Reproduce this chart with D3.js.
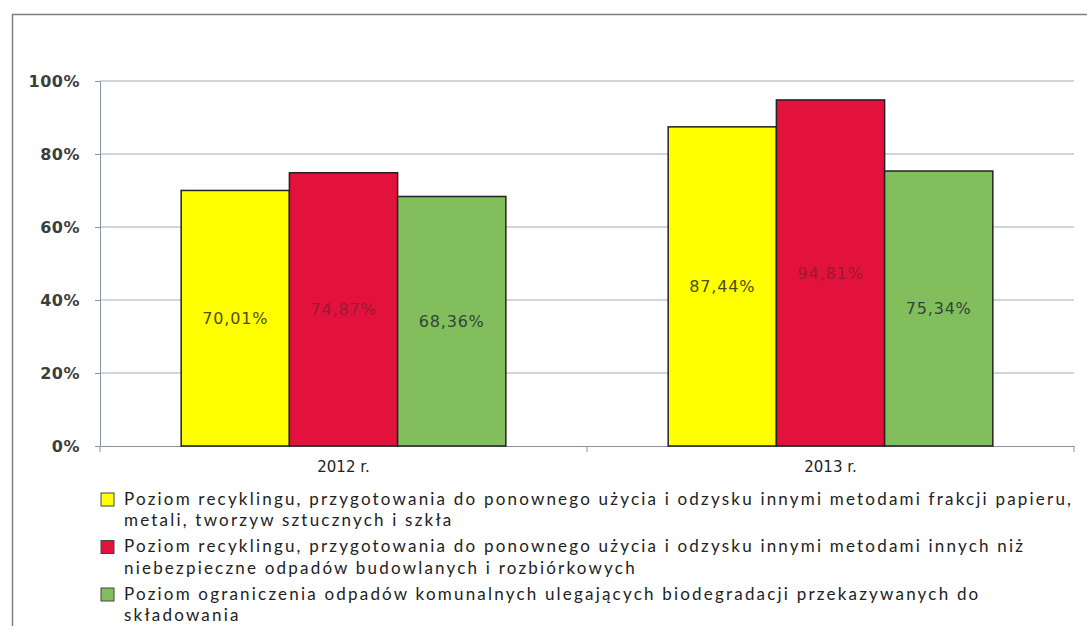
<!DOCTYPE html>
<html>
<head>
    <meta charset="utf-8">
    <style>
        body { margin: 0; background: #fff; }
        svg { display: block; font-family: 'DejaVu Sans', Verdana, sans-serif; }
        .legend text { font-family: Lato, 'Open Sans', sans-serif; }
    </style>
    <title>Poziomy recyklingu</title>
</head>
<body>
    <svg width="1087" height="626"></svg>

<script src="https://d3js.org/d3.v7.min.js"></script>
<script>
    // data
    let years = ['2012 r.', '2013 r.']
    let series = [
        'Poziom recyklingu, przygotowania do ponownego użycia i odzysku innymi metodami frakcji  papieru, metali, tworzyw sztucznych i szkła',
        'Poziom recyklingu, przygotowania do ponownego użycia i odzysku innymi metodami innych niż niebezpieczne odpadów budowlanych i rozbiórkowych',
        'Poziom ograniczenia odpadów komunalnych ulegających biodegradacji przekazywanych do składowania'
    ]
    let legendLines = [
        ['Poziom recyklingu, przygotowania do ponownego użycia i odzysku innymi metodami frakcji  papieru,', 'metali, tworzyw sztucznych i szkła'],
        ['Poziom recyklingu, przygotowania do ponownego użycia i odzysku innymi metodami innych niż', 'niebezpieczne odpadów budowlanych i rozbiórkowych'],
        ['Poziom ograniczenia odpadów komunalnych ulegających biodegradacji przekazywanych do', 'składowania']
    ]
    let values2012 = [70.01, 74.87, 68.36]
    let values2013 = [87.44, 94.81, 75.34]
    let yTicks = [0, 20, 40, 60, 80, 100]

    let colors = ['#ffff00', '#e3123c', '#82bf5c']
    let labelColors = ['#4d4d10', '#9a1a35', '#34443a']

    let svg = d3.select('svg')
    let values = [values2012, values2013]

    // outer frame
    svg.append('rect')
        .attr('x', 12.5).attr('y', 14.5)
        .attr('width', 1100).attr('height', 700)
        .attr('fill', 'none')
        .attr('stroke', '#7a7f88')
        .attr('stroke-width', 1.5)

    let plotLeft = 100, plotRight = 1074, plotTop = 81, plotBottom = 446

    let x0 = d3.scaleBand().domain(years).range([plotLeft, plotRight]).paddingInner(0).paddingOuter(0)
    let x1 = d3.scaleBand().domain(d3.range(series.length)).range([0, x0.bandwidth()]).paddingInner(0).paddingOuter(0.75)
    let y = d3.scaleLinear().domain([0, 100]).range([plotBottom, plotTop])

    // gridlines
    svg.append('g')
        .selectAll('line')
        .data(yTicks.filter(d => d > 0))
        .join('line')
        .attr('x1', plotLeft).attr('x2', plotRight)
        .attr('y1', d => y(d)).attr('y2', d => y(d))
        .attr('stroke', '#9fabb8')
        .attr('stroke-width', 1)

    // y axis
    let yAxis = svg.append('g')
        .attr('transform', `translate(${plotLeft},0)`)
        .call(d3.axisLeft(y).tickValues(yTicks).tickFormat(d => d + '%').tickSize(5).tickPadding(15))
    yAxis.select('.domain').attr('stroke', '#8a93a0')
    yAxis.selectAll('.tick line').attr('stroke', '#8a93a0')
    yAxis.selectAll('.tick text')
        .attr('fill', '#3a3f3c')
        .attr('font-size', 16)
        .attr('font-weight', 'bold')
        .attr('letter-spacing', 0.5)
        .attr('font-family', "'DejaVu Sans', sans-serif")

    // x axis
    let xAxis = svg.append('g')
        .attr('transform', `translate(0,${plotBottom})`)
        .call(d3.axisBottom(x0).tickSize(0).tickPadding(15))
    xAxis.select('.domain').attr('stroke', '#8a93a0')
    xAxis.selectAll('.tick text')
        .attr('fill', '#222')
        .attr('font-size', 15)
        .attr('font-family', "'DejaVu Sans', sans-serif")
    // category boundary ticks
    svg.append('g')
        .selectAll('line')
        .data([...years.map(d => x0(d)), plotRight])
        .join('line')
        .attr('x1', d => d).attr('x2', d => d)
        .attr('y1', plotBottom).attr('y2', plotBottom + 6)
        .attr('stroke', '#8a93a0')

    // bars
    let groups = svg.append('g')
        .selectAll('g')
        .data(years)
        .join('g')
        .attr('transform', d => `translate(${x0(d)},0)`)

    groups.selectAll('rect')
        .data((d, i) => values[i].map((v, j) => ({ v, j })))
        .join('rect')
        .attr('x', d => x1(d.j))
        .attr('width', x1.bandwidth())
        .attr('y', d => y(d.v))
        .attr('height', d => y(0) - y(d.v))
        .attr('fill', d => colors[d.j])
        .attr('stroke', '#222')
        .attr('stroke-width', 1.5)

    groups.selectAll('text')
        .data((d, i) => values[i].map((v, j) => ({ v, j })))
        .join('text')
        .attr('x', d => x1(d.j) + x1.bandwidth() / 2)
        .attr('y', d => (y(d.v) + y(0)) / 2)
        .attr('dy', '0.35em')
        .attr('text-anchor', 'middle')
        .attr('font-size', 16)
        .attr('letter-spacing', 0.8)
        .attr('fill', d => labelColors[d.j])
        .text(d => d3.format('.2f')(d.v).replace('.', ',') + '%')

    // legend
    let legend = svg.append('g').attr('class', 'legend')
    let lineStep = 21.5, blockStep = 47.5
    legendLines.forEach((lines, i) => {
        let g = legend.append('g').attr('transform', `translate(100,${499 + i * blockStep})`)
        g.append('rect')
            .attr('x', 1).attr('y', -6)
            .attr('width', 13).attr('height', 13)
            .attr('fill', colors[i])
            .attr('stroke', '#444')
            .attr('stroke-width', 1)
        lines.forEach((t, k) => {
            g.append('text')
                .attr('x', 24)
                .attr('y', k * lineStep)
                .attr('dy', '0.35em')
                .attr('font-size', 17)
                .attr('letter-spacing', 2.2)
                .attr('fill', '#222')
                .text(t)
        })
    })
</script>
</body>
</html>
